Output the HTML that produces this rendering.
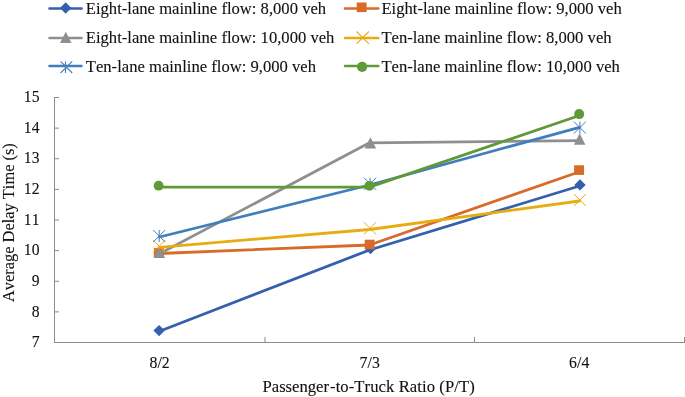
<!DOCTYPE html>
<html><head><meta charset="utf-8">
<style>
html,body{margin:0;padding:0;background:#fff;}
body{width:685px;height:397px;overflow:hidden;position:relative;font-family:"Liberation Serif",serif;color:#111;-webkit-text-stroke:0.12px #111;font-kerning:none;}
svg{position:absolute;left:0;top:0;}
.t{position:absolute;white-space:nowrap;font-size:16.62px;line-height:20px;}
.yt{position:absolute;white-space:nowrap;font-size:17px;line-height:20px;width:30px;text-align:right;transform-origin:100% 50%;}
.xt{position:absolute;white-space:nowrap;font-size:17px;line-height:20px;width:60px;text-align:center;}
</style></head><body><div id="w" style="position:absolute;left:0;top:0;width:685px;height:397px;will-change:transform;background:#fff;">
<svg width="685" height="397" viewBox="0 0 685 397">
<g fill="#8c8c8c">
<rect x="54" y="97" width="1" height="246"/><rect x="54" y="342" width="631" height="1"/>
<rect x="54" y="97.00" width="5" height="1"/>
<rect x="54" y="127.62" width="5" height="1"/>
<rect x="54" y="158.25" width="5" height="1"/>
<rect x="54" y="188.88" width="5" height="1"/>
<rect x="54" y="219.50" width="5" height="1"/>
<rect x="54" y="250.12" width="5" height="1"/>
<rect x="54" y="280.75" width="5" height="1"/>
<rect x="54" y="311.38" width="5" height="1"/>
<rect x="264.5" y="337" width="1" height="6"/><rect x="474" y="337" width="1" height="6"/><rect x="684" y="337" width="1" height="6"/>
</g>
<polyline fill="none" stroke-width="2.8" stroke-linejoin="round" stroke-linecap="round" stroke="#3560AE" points="159.5,331.3 369.5,250 579.5,186"/>
<g fill="#3560AE"><path d="M159.1 324.90l5.7 5.7-5.7 5.7-5.7-5.7z"/><path d="M370.5 242.90l5.7 5.7-5.7 5.7-5.7-5.7z"/><path d="M580 179.20l5.7 5.7-5.7 5.7-5.7-5.7z"/></g>
<polyline fill="none" stroke-width="2.8" stroke-linejoin="round" stroke-linecap="round" stroke="#D76B29" points="159.5,253.5 369.5,245 579.5,171.7"/>
<g fill="#D76B29"><rect x="153.85" y="248.05" width="9.9" height="9.6"/><rect x="364.70" y="239.70" width="9.9" height="9.6"/><rect x="574.15" y="165.30" width="9.9" height="9.6"/></g>
<polyline fill="none" stroke-width="2.8" stroke-linejoin="round" stroke-linecap="round" stroke="#8F8F8F" points="159.5,253.7 369.5,142.8 579.5,140.6"/>
<g fill="#8F8F8F"><path d="M159.4 246.70l5.75 11.4h-11.5z"/><path d="M370.4 137.15l5.75 11.4h-11.5z"/><path d="M579.65 133.30l5.75 11.4h-11.5z"/></g>
<polyline fill="none" stroke-width="2.8" stroke-linejoin="round" stroke-linecap="round" stroke="#E7AC12" points="159.5,247.3 369.5,229.5 579.5,201"/>
<g stroke="#E7AC12" stroke-width="1.0" fill="none"><path d="M153.20 240.20l12.0 12.0M165.20 240.20l-12.0 12.0"/><path d="M364.00 222.30l12.0 12.0M376.00 222.30l-12.0 12.0"/><path d="M573.90 194.00l12.0 12.0M585.90 194.00l-12.0 12.0"/></g>
<polyline fill="none" stroke-width="2.8" stroke-linejoin="round" stroke-linecap="round" stroke="#417EBD" points="159.5,237 369.5,185 579.5,127.3"/>
<g stroke="#417EBD" stroke-width="1.0" fill="none"><path d="M153.20 230.00l12.0 12.0M165.20 230.00l-12.0 12.0M159.20 230.00v12.0"/><path d="M364.10 177.80l12.0 12.0M376.10 177.80l-12.0 12.0M370.10 177.80v12.0"/><path d="M573.90 121.60l12.0 12.0M585.90 121.60l-12.0 12.0M579.90 121.60v12.0"/></g>
<polyline fill="none" stroke-width="2.8" stroke-linejoin="round" stroke-linecap="round" stroke="#5F9A38" points="159.5,187.1 369.5,187.1 579.5,115.5"/>
<g fill="#5F9A38"><circle cx="158.6" cy="185.7" r="4.9"/><circle cx="369.4" cy="185.8" r="4.9"/><circle cx="579.2" cy="114.1" r="5.0"/></g>
<g fill="none" stroke-width="2.5" stroke-linecap="round">
<path stroke="#3560AE" d="M49.5 8.55H81.5"/>
<path stroke="#8F8F8F" d="M49.5 37.9H81.5"/>
<path stroke="#417EBD" d="M49.5 66.0H81.5"/>
<path stroke="#D76B29" d="M345 8.55H378.3"/>
<path stroke="#E7AC12" d="M345 37.9H378.3"/>
<path stroke="#5F9A38" d="M345 66.0H378.3"/>
</g>
<g fill="#3560AE"><path d="M65.67 2.35l5.7 5.7-5.7 5.7-5.7-5.7z"/></g>
<g fill="#8F8F8F"><path d="M65.75 31.65l5.75 11.4h-11.5z"/></g>
<g stroke="#417EBD" stroke-width="1.1" fill="none"><path d="M60.60 61.40l11.6 11.6M72.20 61.40l-11.6 11.6M65.50 61.40v11.6"/></g>
<g fill="#D76B29"><rect x="356.70" y="2.50" width="9.9" height="9.6"/></g>
<g stroke="#E7AC12" stroke-width="1.1" fill="none"><path d="M356.50 31.50l12.4 12.4M368.90 31.50l-12.4 12.4"/></g>
<g fill="#5F9A38"><circle cx="362.1" cy="66.9" r="5.1"/></g>
</svg>
<div class="t" style="left:85px;top:-2px;transform:translate(0.80px,0.60px) rotate(0.02deg);">Eight-lane mainline flow: 8,000 veh</div>
<div class="t" style="left:85px;top:28px;transform:translate(0.80px,0.30px) rotate(0.02deg);">Eight-lane mainline flow: 10,000 veh</div>
<div class="t" style="left:85px;top:57px;transform:translate(0.80px,0.00px) rotate(0.02deg);">Ten-lane mainline flow: 9,000 veh</div>
<div class="t" style="left:381px;top:-2px;transform:translate(0.40px,0.60px) rotate(0.02deg);">Eight-lane mainline flow: 9,000 veh</div>
<div class="t" style="left:381px;top:28px;transform:translate(0.40px,0.30px) rotate(0.02deg);">Ten-lane mainline flow: 8,000 veh</div>
<div class="t" style="left:381px;top:57px;transform:translate(0.40px,0.00px) rotate(0.02deg);">Ten-lane mainline flow: 10,000 veh</div>
<div class="yt" style="left:9px;top:86px;transform:translate(0.50px,0.90px) rotate(0.02deg) scaleX(0.92);">15</div>
<div class="yt" style="left:9px;top:117px;transform:translate(0.50px,0.56px) rotate(0.02deg) scaleX(0.92);">14</div>
<div class="yt" style="left:9px;top:148px;transform:translate(0.50px,0.22px) rotate(0.02deg) scaleX(0.92);">13</div>
<div class="yt" style="left:9px;top:178px;transform:translate(0.50px,0.88px) rotate(0.02deg) scaleX(0.92);">12</div>
<div class="yt" style="left:9px;top:209px;transform:translate(0.50px,0.54px) rotate(0.02deg) scaleX(0.92);">11</div>
<div class="yt" style="left:9px;top:240px;transform:translate(0.50px,0.20px) rotate(0.02deg) scaleX(0.92);">10</div>
<div class="yt" style="left:9px;top:270px;transform:translate(0.50px,0.86px) rotate(0.02deg) scaleX(0.92);">9</div>
<div class="yt" style="left:9px;top:301px;transform:translate(0.50px,0.52px) rotate(0.02deg) scaleX(0.92);">8</div>
<div class="yt" style="left:9px;top:332px;transform:translate(0.50px,0.18px) rotate(0.02deg) scaleX(0.92);">7</div>
<div class="xt" style="left:129px;top:352px;transform:translate(0.60px,0.60px) rotate(0.02deg) scaleX(0.93);">8/2</div>
<div class="xt" style="left:339px;top:352px;transform:translate(0.70px,0.60px) rotate(0.02deg) scaleX(0.93);">7/3</div>
<div class="xt" style="left:549px;top:352px;transform:translate(0.20px,0.60px) rotate(0.02deg) scaleX(0.93);">6/4</div>
<div class="t" id="xl" style="font-size:16.65px;left:262px;top:377px;transform:translate(0.50px,0.30px) rotate(0.02deg);">Passenger<span style="margin-left:1px;letter-spacing:0.07px">-to-Truck Ratio (P/T)</span></div>
<div class="t" id="yl" style="font-size:16.4px;left:-1.3px;top:302.4px;transform-origin:0 0;transform:rotate(-90deg);">Average Delay Time (s)</div>
</div></body></html>
